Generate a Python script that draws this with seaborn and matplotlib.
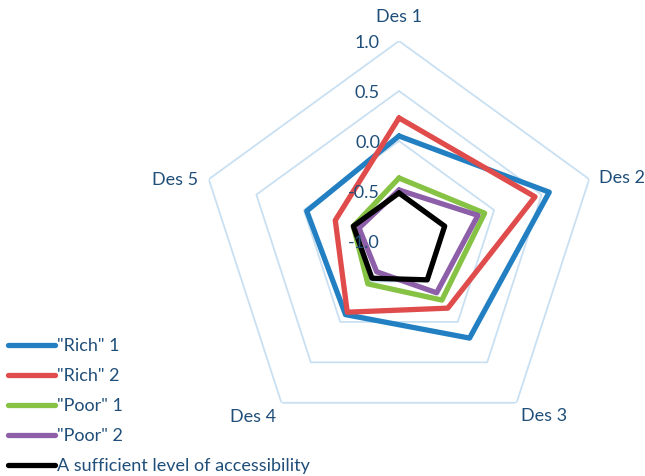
import numpy as np
import pandas as pd
import matplotlib
matplotlib.use("Agg")
import matplotlib.pyplot as plt
import matplotlib.transforms as mtransforms
import seaborn as sns

categories = ["Des 1", "Des 2", "Des 3", "Des 4", "Des 5"]
rich1 = [0.05, 0.58, 0.20, -0.09, -0.03]
rich2 = [0.23, 0.43, -0.17, -0.12, -0.33]
poor1 = [-0.37, -0.10, -0.27, -0.47, -0.52]
poor2 = [-0.49, -0.17, -0.36, -0.62, -0.58]
sufficient = [-0.52, -0.52, -0.52, -0.54, -0.52]
series_names = ['"Rich" 1', '"Rich" 2', '"Poor" 1', '"Poor" 2',
                "A sufficient level of accessibility"]
series_values = [rich1, rich2, poor1, poor2, sufficient]
colors = ["#2280c2", "#e04b4b", "#86c244", "#8c5fa8", "#000000"]
rticks = [-1.0, -0.5, 0.0, 0.5, 1.0]
rtick_labels = ["-1.0", "-0.5", "0.0", "0.5", "1.0"]

text_color = "#1f4e79"
grid_color = "#c9e0f2"

sns.set_style("white")
plt.rcParams["font.family"] = ["Lato", "DejaVu Sans"]

fig = plt.figure(figsize=(6.45, 4.76), dpi=100)
ax = fig.add_axes([199 / 645, 35 / 476, 400 / 645, 400 / 476], projection="polar")
ax.set_theta_offset(np.pi / 2)
ax.set_theta_direction(-1)
ax.set_ylim(-1, 1)

n = len(categories)
angles = np.linspace(0, 2 * np.pi, n, endpoint=False)

# pentagon grid rings
ang_closed = np.append(angles, angles[0])
for r in rticks[1:]:
    ax.plot(ang_closed, [r] * (n + 1), color=grid_color, lw=1.3, zorder=1)

rows = []
for name, vals in zip(series_names, series_values):
    for i in range(n + 1):
        rows.append({"series": name, "order": i, "theta": ang_closed[i],
                     "value": vals[i % n]})
df = pd.DataFrame(rows)

sns.lineplot(data=df, x="theta", y="value", hue="series", hue_order=series_names,
             palette=colors, sort=False, estimator=None, units="series",
             linewidth=3.8, ax=ax, zorder=3)

ax.grid(False)
ax.spines["polar"].set_visible(False)
ax.set_xticks([])
ax.set_yticks([])
ax.set_xlabel("")
ax.set_ylabel("")

fs = 13
# category labels, offset from the outer ring vertices
label_offsets = [(0, 24), (33, 1), (28, -13), (-28, -14), (-34, -1)]
for a, lab, (dx, dy) in zip(angles, categories, label_offsets):
    ax.annotate(lab, xy=(a, 1.0), xytext=(dx, dy), textcoords="offset pixels",
                ha="center", va="center", fontsize=fs, color=text_color,
                annotation_clip=False)

# radial tick labels
off = mtransforms.offset_copy(ax.transData, fig=fig, x=-0.19, y=-0.02, units="inches")
for r, lab in zip(rticks, rtick_labels):
    ax.text(0, r, lab, transform=off, ha="right", va="center", fontsize=fs,
            color=text_color, clip_on=False, zorder=10)

# legend
handles, labels = ax.get_legend_handles_labels()
if ax.legend_:
    ax.legend_.remove()
for h in handles:
    h.set_linewidth(3.8)
leg = ax.legend(handles, labels, loc="lower left", bbox_to_anchor=(6 / 645, 0.0),
                bbox_transform=fig.transFigure, frameon=False, fontsize=fs,
                handlelength=2.6, handletextpad=0.1, labelspacing=0.78,
                borderaxespad=0.0, borderpad=0.1)
for t in leg.get_texts():
    t.set_color(text_color)

fig.savefig("out.png", dpi=100)
